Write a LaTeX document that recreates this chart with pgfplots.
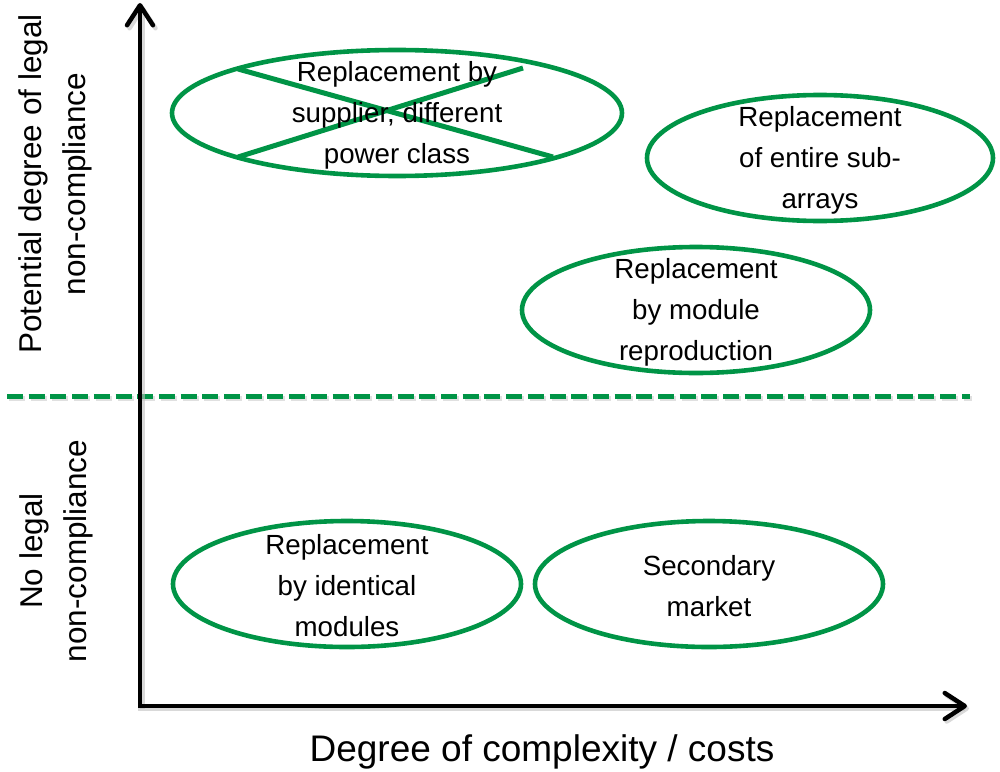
\documentclass[border=0pt]{standalone}
\usepackage{pgfplots}
\pgfplotsset{compat=1.18}
\usepackage{fontspec}
\setmainfont{Liberation Sans}
\usetikzlibrary{arrows.meta}
\definecolor{pvgreen}{RGB}{0,148,70}
\begin{document}
\begin{tikzpicture}
\begin{axis}[
  width=1000bp, height=771bp, scale only axis,
  xmin=0, xmax=1000, ymin=0, ymax=771, y dir=reverse,
  hide axis, clip=false,
]
% bounding frame (invisible)
\path (axis cs:0,0) rectangle (axis cs:1000,771);

% dashed separator (shadow + line)
\addplot[gray!40, line width=5bp, dash pattern=on 16bp off 5.7bp, opacity=0.6]
  coordinates {(9,398.5) (972,398.5)};
\addplot[pvgreen, line width=5bp, dash pattern=on 16bp off 5.7bp]
  coordinates {(7,396) (970,396)};

% axes (shadow)
\addplot[gray!50, line width=4.5bp, opacity=0.6, -{Straight Barb[length=20bp,width=26bp,round]}]
  coordinates {(142.5,709) (142.5,6)};
\addplot[gray!50, line width=4.5bp, opacity=0.6, -{Straight Barb[length=20bp,width=26bp,round]}]
  coordinates {(138,708.5) (969,708.5)};
% axes
\addplot[black, line width=4.5bp, -{Straight Barb[length=20bp,width=26bp,round]}]
  coordinates {(140,707) (140,3)};
\addplot[black, line width=4.5bp, -{Straight Barb[length=20bp,width=26bp,round]}]
  coordinates {(138,706) (967,706)};

% ellipses
\draw[pvgreen, line width=4.6bp] (axis cs:397,113) ellipse [x radius=225, y radius=63];
\draw[pvgreen, line width=4.6bp] (axis cs:820,158) ellipse [x radius=173, y radius=63];
\draw[pvgreen, line width=4.6bp] (axis cs:696,310) ellipse [x radius=174, y radius=63];
\draw[pvgreen, line width=4.6bp] (axis cs:347,584) ellipse [x radius=174, y radius=63];
\draw[pvgreen, line width=4.6bp] (axis cs:709,584) ellipse [x radius=174, y radius=63];

% cross
\addplot[pvgreen, line width=5bp] coordinates {(238,69) (553,157)};
\addplot[pvgreen, line width=5bp] coordinates {(238,157) (523,68)};

% ellipse texts
\begin{scope}[every node/.style={align=center, inner sep=0pt, text=black,
   font={\fontsize{27.7bp}{41bp}\selectfont}}]
\node at (axis cs:397,115) {Replacement by\\supplier, different\\power class};
\node at (axis cs:820,160) {Replacement\\of entire sub-\\arrays};
\node at (axis cs:696,312) {Replacement\\by module\\reproduction};
\node at (axis cs:347,586) {Replacement\\by identical\\modules};
\node at (axis cs:709,586) {Secondary\\market};
\end{scope}

% axis labels
\node[font={\fontsize{37bp}{44bp}\selectfont}, inner sep=0pt] at (axis cs:542,752) {Degree of complexity / costs};
\node[rotate=90, align=center, inner sep=0pt, font={\fontsize{31.5bp}{44bp}\selectfont}]
  at (axis cs:55,184) {Potential degree of legal\\non-compliance};
\node[rotate=90, align=center, inner sep=0pt, font={\fontsize{31.5bp}{44bp}\selectfont}]
  at (axis cs:56,551) {No legal\\non-compliance};
\end{axis}
\end{tikzpicture}
\end{document}
